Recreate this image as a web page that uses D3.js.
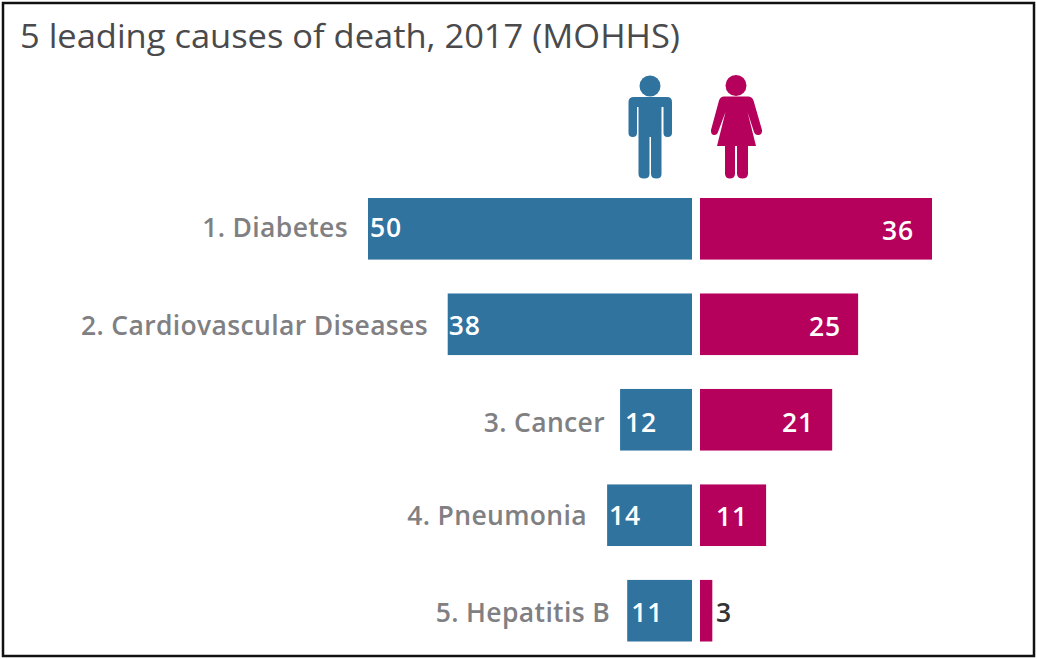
<!DOCTYPE html>
<html><head><meta charset="utf-8">
<script src="https://cdn.jsdelivr.net/npm/d3@7/dist/d3.min.js"></script>
<style>html,body{margin:0;padding:0;background:#fff}svg{display:block}text{font-family:"Open Sans",sans-serif}</style>
</head><body><svg id="c" width="1037" height="659"></svg>
<script>
const titleText = "5 leading causes of death, 2017 (MOHHS)";
const categories = ["1. Diabetes","2. Cardiovascular Diseases","3. Cancer","4. Pneumonia","5. Hepatitis B"];
const maleLabels = [50,38,12,14,11];
const femaleLabels = [36,25,21,11,3];
// bar lengths as drawn in the picture (the source bars are not exactly proportional to their labels)
const maleLengths = [50,37.7,11.1,13.1,10];
const femaleLengths = [35.8,24.4,20.4,10.2,1.9];
const maleColor = "#30739f", femaleColor = "#b5005c";

const svg = d3.select("#c");
svg.append("rect").attr("x",3).attr("y",3).attr("width",1031).attr("height",653)
  .attr("fill","#fff").attr("stroke","#111").attr("stroke-width",2.5);
svg.append("text").attr("x",20).attr("y",48).attr("font-size",32.5).attr("fill","#4a4a4c")
  .attr("textLength",660).attr("lengthAdjust","spacingAndGlyphs").text(titleText);

const y = d3.scaleBand().domain(categories).range([198,641.5]).paddingInner(0.355).paddingOuter(0);
const xM = d3.scaleLinear().domain([0,50]).range([692,368]);
const xF = d3.scaleLinear().domain([0,50]).range([700,1024]);

const rows = svg.selectAll("g.row").data(categories).join("g").attr("class","row");
rows.append("rect").attr("x",(d,i)=>xM(maleLengths[i])).attr("y",d=>y(d))
  .attr("width",(d,i)=>xM(0)-xM(maleLengths[i])).attr("height",y.bandwidth()).attr("fill",maleColor);
rows.append("rect").attr("x",xF(0)).attr("y",d=>y(d))
  .attr("width",(d,i)=>xF(femaleLengths[i])-xF(0)).attr("height",y.bandwidth()).attr("fill",femaleColor);

const mid = d=>y(d)+y.bandwidth()/2;
const labelEnd = [348,428,605,587,610];
const dy = [8.5,10.5,12,9.5,11.5];
rows.append("text").attr("x",(d,i)=>labelEnd[i]).attr("y",(d,i)=>mid(d)+dy[i]).attr("text-anchor","end")
  .attr("font-size",26.5).attr("font-weight",600).attr("letter-spacing",0.35).attr("fill","#808083").text(d=>d);
rows.append("text").attr("x",(d,i)=>xM(maleLengths[i])+[2,1,5,2,4][i]).attr("y",(d,i)=>mid(d)+dy[i])
  .attr("font-size",26.5).attr("font-weight",600).attr("letter-spacing",0.8).attr("fill","#fff").text((d,i)=>maleLabels[i]);
const femEnd = [914,841,814,748,732];
rows.append("text").attr("x",(d,i)=>femEnd[i]).attr("y",(d,i)=>mid(d)+[11,12,12,11,11][i]).attr("text-anchor","end")
  .attr("font-size",26.5).attr("font-weight",600).attr("letter-spacing",0.8).attr("fill",(d,i)=>i===4?"#333":"#fff").text((d,i)=>femaleLabels[i]);

// icons
const man = svg.append("g").attr("fill",maleColor);
man.append("circle").attr("cx",650).attr("cy",86).attr("r",10.5);
man.append("path").attr("d","M634 97 H667 Q672 97 672 102 V133 Q672 137 667.500 137 Q663.500 137 663.500 133 V107 H661.500 V174 Q661.500 178.500 656.500 178.500 Q651 178.500 651 174 V137 H649.500 V174 Q649.500 178.500 644 178.500 Q638.500 178.500 638.500 174 V107 H637 V133 Q637 137 632.800 137 Q628.500 137 628.500 133 V102 Q628.500 97 634 97 Z");
const woman = svg.append("g").attr("fill",femaleColor);
woman.append("circle").attr("cx",736).attr("cy",85.500).attr("r",10.5);
woman.append("path").attr("d","M724 96.500 H748 Q752 96.500 753.500 100.500 L762 130 Q762.500 135 758 135 Q755 135 754 132 L747.500 112 L756 146 H748 V174 Q747.500 178.500 742.500 178.500 Q737.500 178.500 737 174 V146 H735 V174 Q734.500 178.500 730 178.500 Q725.500 178.500 725 174 V146 H717 L725.500 112 L718 132 Q717 135 714.500 135 Q710.500 135 711 130 L719 100.500 Q720.500 96.500 724 96.500 Z");
</script></body></html>
